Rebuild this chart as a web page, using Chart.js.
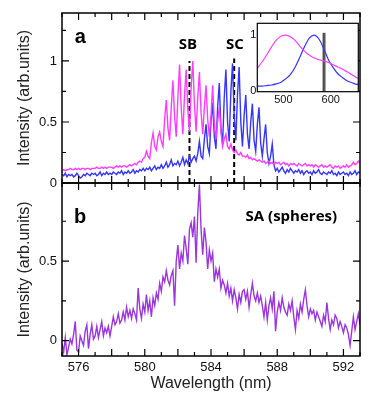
<!DOCTYPE html>
<html>
<head>
<meta charset="utf-8">
<script src="https://cdn.jsdelivr.net/npm/chart.js@4.4.0/dist/chart.umd.min.js"></script>
<style>
  html, body { margin: 0; padding: 0; background: #fff; }
  #wrap { position: relative; width: 374px; height: 401px; overflow: hidden; }
  canvas { position: absolute; }
</style>
</head>
<body>
<div id="wrap">
  <canvas id="bottomChart" width="374" height="221" style="left:0;top:180px"></canvas>
  <canvas id="topChart" width="374" height="195" style="left:0;top:0"></canvas>
  <canvas id="insetChart" width="144" height="95" style="left:230px;top:15px"></canvas>
</div>
<script>
// sampling grid of the spectra (nm)
const wlStart = 575, wlStep = 0.1;

// panel a: magenta and blue spectra, 575.0 .. 593.0 nm
const topMagenta = [
  0.10,0.11,0.10,0.11,0.11,0.12,0.11,0.11,0.12,0.11,
  0.12,0.11,0.12,0.12,0.11,0.12,0.12,0.11,0.12,0.12,
  0.12,0.13,0.12,0.12,0.13,0.12,0.13,0.12,0.13,0.13,
  0.13,0.12,0.13,0.14,0.13,0.14,0.13,0.14,0.14,0.13,
  0.14,0.15,0.14,0.15,0.16,0.15,0.17,0.18,0.17,0.20,
  0.21,0.26,0.22,0.20,0.33,0.41,0.30,0.27,0.38,0.42,
  0.34,0.30,0.52,0.68,0.45,0.35,0.62,0.84,0.55,0.38,
  0.70,0.97,0.62,0.40,0.72,0.93,0.60,0.42,0.78,1.00,
  0.65,0.42,0.70,0.91,0.58,0.40,0.62,0.80,0.52,0.38,
  0.55,0.80,0.50,0.36,0.50,0.62,0.42,0.30,0.36,0.40,
  0.30,0.28,0.32,0.27,0.25,0.27,0.24,0.23,0.25,0.22,
  0.22,0.21,0.23,0.20,0.21,0.19,0.20,0.19,0.18,0.19,
  0.18,0.17,0.18,0.16,0.17,0.18,0.16,0.17,0.15,0.17,
  0.16,0.17,0.15,0.16,0.17,0.15,0.16,0.14,0.16,0.15,
  0.16,0.15,0.14,0.16,0.15,0.14,0.15,0.16,0.14,0.15,
  0.14,0.15,0.13,0.15,0.14,0.13,0.14,0.15,0.13,0.14,
  0.13,0.14,0.15,0.13,0.12,0.14,0.13,0.14,0.12,0.13,
  0.14,0.13,0.15,0.13,0.14,0.15,0.17,0.15,0.16,0.18,
  0.16
];
const topBlue = [
  0.07,0.06,0.08,0.05,0.07,0.06,0.07,0.05,0.06,0.08,
  0.06,0.04,0.05,0.07,0.06,0.08,0.07,0.06,0.08,0.07,
  0.08,0.06,0.07,0.09,0.06,0.08,0.07,0.09,0.07,0.08,
  0.07,0.09,0.08,0.07,0.09,0.08,0.10,0.07,0.09,0.08,
  0.10,0.08,0.09,0.11,0.08,0.10,0.09,0.11,0.10,0.12,
  0.10,0.12,0.11,0.13,0.10,0.12,0.14,0.11,0.13,0.12,
  0.15,0.12,0.14,0.17,0.13,0.15,0.19,0.14,0.16,0.15,
  0.18,0.14,0.17,0.21,0.15,0.19,0.16,0.22,0.17,0.20,
  0.22,0.18,0.24,0.34,0.22,0.20,0.36,0.48,0.30,0.24,
  0.50,0.66,0.38,0.28,0.62,0.82,0.45,0.32,0.70,0.93,
  0.50,0.34,0.75,0.98,0.55,0.35,0.72,0.95,0.50,0.30,
  0.55,0.72,0.40,0.28,0.50,0.65,0.35,0.26,0.48,0.62,
  0.33,0.22,0.36,0.48,0.25,0.16,0.22,0.32,0.15,0.10,
  0.12,0.09,0.11,0.13,0.10,0.08,0.11,0.09,0.12,0.10,
  0.08,0.10,0.09,0.11,0.08,0.10,0.07,0.09,0.10,0.08,
  0.09,0.07,0.10,0.08,0.09,0.11,0.08,0.07,0.09,0.08,
  0.07,0.09,0.08,0.10,0.07,0.08,0.06,0.09,0.07,0.08,
  0.09,0.07,0.08,0.06,0.09,0.07,0.08,0.10,0.07,0.09,
  0.08
];

// panel b: SA (spheres), 575.0 .. 593.0 nm
const bottomPurple = [
  -0.02,-0.07,0.02,-0.09,-0.04,0.01,-0.02,0.04,0.12,-0.06,
  -0.07,0.03,0.00,-0.03,0.06,0.10,-0.05,0.04,0.10,0.01,
  0.03,0.09,0.02,0.07,0.12,0.03,0.08,0.05,0.09,0.03,
  0.09,0.15,0.10,0.12,0.17,0.11,0.13,0.18,0.13,0.21,
  0.15,0.19,0.14,0.20,0.17,0.13,0.33,0.20,0.14,0.23,
  0.18,0.29,0.19,0.25,0.15,0.27,0.22,0.30,0.26,0.36,
  0.31,0.40,0.37,0.44,0.38,0.35,0.41,0.44,0.22,0.50,
  0.60,0.45,0.55,0.50,0.66,0.58,0.48,0.70,0.74,0.65,
  0.78,0.49,0.80,0.98,0.70,0.54,0.71,0.62,0.45,0.57,
  0.50,0.55,0.37,0.45,0.40,0.45,0.33,0.38,0.35,0.30,
  0.36,0.28,0.33,0.25,0.32,0.27,0.20,0.29,0.24,0.31,
  0.32,0.26,0.31,0.21,0.29,0.36,0.28,0.25,0.30,0.24,
  0.28,0.22,0.15,0.24,0.13,0.22,0.27,0.20,0.31,0.06,
  0.18,0.24,0.19,0.27,0.21,0.18,0.16,0.23,0.19,0.25,
  0.15,0.07,0.19,0.14,0.23,0.18,0.26,0.32,0.22,0.15,
  0.20,0.17,0.19,0.13,0.18,0.15,0.12,0.09,0.16,0.12,
  0.24,0.14,0.07,0.13,0.10,0.16,0.14,0.08,0.12,0.09,
  0.05,0.10,0.08,0.04,-0.03,0.06,0.15,0.07,0.12,0.17,
  0.10
];

// inset: normalised spectra
const insetWl = [445,455,465,475,485,495,505,515,525,535,545,555,565,575,585,595,605,615,625,635,645,655,658];
const insetMagenta = [0.41,0.52,0.65,0.79,0.91,0.98,1.00,0.97,0.90,0.80,0.71,0.64,0.59,0.56,0.54,0.51,0.47,0.43,0.39,0.34,0.29,0.24,0.23];
const insetBlue = [0.09,0.09,0.10,0.11,0.13,0.16,0.22,0.30,0.43,0.61,0.80,0.95,1.00,0.93,0.76,0.56,0.42,0.31,0.24,0.18,0.15,0.12,0.12];
const insetMarkers = [584, 587.5];

// marker wavelengths in panel a
const sbWl = 582.7, scWl = 585.4;

// tick labels
const xTickLabels = [576, 580, 584, 588, 592];
const yTicksTop = [0, 0.5, 1];
const yTicksBottom = [0, 0.5];
const insetXTicks = [500, 600];
const insetYTicks = [0, 1];

function toPoints(values) {
  return values.map((v, i) => ({ x: +(wlStart + i * wlStep).toFixed(2), y: v }));
}

function zipPoints(xs, ys) {
  return xs.map((x, i) => ({ x: x, y: ys[i] }));
}

function range(a, b, step) {
  const out = [];
  for (let v = a; v <= b + 1e-9; v += step) out.push(+v.toFixed(3));
  return out;
}

// keep the fixed plot box: no extra room for half-height edge labels
function fixSize(size, isX) {
  return function (s) {
    if (isX) s.height = size; else s.width = size;
    s.paddingTop = 0; s.paddingBottom = 0; s.paddingLeft = 0; s.paddingRight = 0;
  };
}

// box, inward ticks and text labels placed through the scales
const framePlugin = {
  id: 'frame',
  beforeDatasetsDraw(chart, args, opts) {
    if (!opts.fill) return;
    const { ctx, chartArea: a } = chart;
    ctx.save();
    ctx.fillStyle = opts.fill;
    ctx.fillRect(a.left, a.top, a.right - a.left, a.bottom - a.top);
    ctx.restore();
  },
  afterDatasetsDraw(chart, args, opts) {
    const { ctx, chartArea: a, scales } = chart;
    ctx.save();
    ctx.strokeStyle = '#000';
    ctx.lineWidth = opts.lineWidth || 1.5;
    ctx.strokeRect(a.left, a.top, a.right - a.left, a.bottom - a.top);
    ctx.lineWidth = 1.2;
    ctx.beginPath();
    (opts.xTicks || []).forEach(t => {
      const px = scales.x.getPixelForValue(t.v);
      ctx.moveTo(px, a.bottom); ctx.lineTo(px, a.bottom - t.len);
      ctx.moveTo(px, a.top); ctx.lineTo(px, a.top + t.len);
    });
    (opts.yTicks || []).forEach(t => {
      const py = scales.y.getPixelForValue(t.v);
      ctx.moveTo(a.left, py); ctx.lineTo(a.left + t.len, py);
      ctx.moveTo(a.right, py); ctx.lineTo(a.right - t.len, py);
    });
    ctx.stroke();
    (opts.labels || []).forEach(l => {
      ctx.font = l.font;
      ctx.fillStyle = '#000';
      ctx.textAlign = 'center';
      ctx.textBaseline = 'middle';
      ctx.fillText(l.text, scales.x.getPixelForValue(l.x), scales.y.getPixelForValue(l.y));
    });
    ctx.restore();
  }
};

const tickFont = { family: '"Liberation Sans", Arial, sans-serif', size: 13 };
const titleFont = { family: '"Liberation Sans", Arial, sans-serif', size: 16 };
const labelBig = 'bold 20px "Liberation Sans", Arial, sans-serif';
const labelSmall = 'bold 15px "Open Sans", sans-serif';
const plainNumber = v => String(v);

const xMinor = range(575, 593, 1).map(v => ({ v: v, len: v % 2 === 0 ? 7 : 4 }));

const lineStyle = { pointRadius: 0, tension: 0, fill: false };

new Chart(document.getElementById('topChart'), {
  type: 'line',
  data: {
    datasets: [
      Object.assign({ data: toPoints(topMagenta), borderColor: '#ff3cff', borderWidth: 1.4 }, lineStyle),
      Object.assign({ data: toPoints(topBlue), borderColor: '#3535ff', borderWidth: 1.4 }, lineStyle),
      Object.assign({ data: [{ x: sbWl, y: 0 }, { x: sbWl, y: 1.0 }], borderColor: '#000', borderWidth: 2, borderDash: [5, 3] }, lineStyle),
      Object.assign({ data: [{ x: scWl, y: 0 }, { x: scWl, y: 1.02 }], borderColor: '#000', borderWidth: 2, borderDash: [5, 3] }, lineStyle)
    ]
  },
  options: {
    responsive: false,
    animation: false,
    layout: { padding: { top: 13, right: 14, left: 0, bottom: 0 } },
    plugins: {
      legend: { display: false },
      tooltip: { enabled: false },
      frame: {
        xTicks: xMinor,
        yTicks: range(0, 1.25, 0.25).map(v => ({ v: v, len: v % 0.5 === 0 ? 7 : 4 })),
        labels: [
          { text: 'a', x: 576.1, y: 1.19, font: labelBig },
          { text: 'SB', x: 582.6, y: 1.13, font: labelSmall },
          { text: 'SC', x: 585.45, y: 1.13, font: labelSmall }
        ]
      }
    },
    scales: {
      x: {
        type: 'linear', min: 575, max: 593,
        ticks: { display: false },
        grid: { display: false, drawTicks: false },
        border: { display: false },
        afterFit: fixSize(12, true)
      },
      y: {
        min: 0, max: 1.393,
        afterBuildTicks(s) { s.ticks = yTicksTop.map(v => ({ value: v })); },
        ticks: { font: tickFont, color: '#111', padding: 5, callback: plainNumber },
        grid: { display: false, drawTicks: false },
        border: { display: false },
        title: { display: true, text: 'Intensity (arb.units)', font: titleFont, color: '#222', padding: { top: 15, bottom: 0 } },
        afterFit: fixSize(62, false)
      }
    }
  },
  plugins: [framePlugin]
});

new Chart(document.getElementById('bottomChart'), {
  type: 'line',
  data: {
    datasets: [
      Object.assign({ data: toPoints(bottomPurple), borderColor: '#9b36dc', borderWidth: 1.4 }, lineStyle)
    ]
  },
  options: {
    responsive: false,
    animation: false,
    layout: { padding: { top: 3, right: 14, left: 0, bottom: 0 } },
    plugins: {
      legend: { display: false },
      tooltip: { enabled: false },
      frame: {
        xTicks: xMinor,
        yTicks: range(0, 0.75, 0.25).map(v => ({ v: v, len: v % 0.5 === 0 ? 7 : 4 })),
        labels: [
          { text: 'b', x: 576.1, y: 0.775, font: labelBig },
          { text: 'SA (spheres)', x: 588.85, y: 0.78, font: labelSmall }
        ]
      }
    },
    scales: {
      x: {
        type: 'linear', min: 575, max: 593,
        afterBuildTicks(s) { s.ticks = xTickLabels.map(v => ({ value: v })); },
        ticks: { font: tickFont, color: '#111', padding: 4, maxRotation: 0, autoSkip: false },
        grid: { display: false, drawTicks: false },
        border: { display: false },
        title: { display: true, text: 'Wavelength (nm)', font: titleFont, color: '#222', padding: { top: 0, bottom: 8 } },
        afterFit: fixSize(45, true)
      },
      y: {
        min: -0.096, max: 0.99,
        afterBuildTicks(s) { s.ticks = yTicksBottom.map(v => ({ value: v })); },
        ticks: { font: tickFont, color: '#111', padding: 5, callback: plainNumber },
        grid: { display: false, drawTicks: false },
        border: { display: false },
        title: { display: true, text: 'Intensity (arb.units)', font: titleFont, color: '#222', padding: { top: 15, bottom: 0 } },
        afterFit: fixSize(62, false)
      }
    }
  },
  plugins: [framePlugin]
});

const insetTickFont = { family: '"Liberation Sans", Arial, sans-serif', size: 11 };

new Chart(document.getElementById('insetChart'), {
  type: 'line',
  data: {
    datasets: [
      Object.assign({ data: zipPoints(insetWl, insetMagenta), borderColor: '#ff3cff', borderWidth: 1.2, cubicInterpolationMode: 'monotone' }, lineStyle),
      Object.assign({ data: zipPoints(insetWl, insetBlue), borderColor: '#3535ff', borderWidth: 1.2, cubicInterpolationMode: 'monotone' }, lineStyle)
    ].concat(insetMarkers.map(w => Object.assign({
      data: [{ x: w, y: 0 }, { x: w, y: 1.04 }], borderColor: '#000', borderWidth: 1
    }, lineStyle)))
  },
  options: {
    responsive: false,
    animation: false,
    layout: { padding: { top: 8.3, right: 15.7, left: 0, bottom: 0 } },
    plugins: {
      legend: { display: false },
      tooltip: { enabled: false },
      frame: { fill: '#fff', lineWidth: 1.2 }
    },
    scales: {
      x: {
        type: 'linear', min: 445, max: 658,
        afterBuildTicks(s) { s.ticks = insetXTicks.map(v => ({ value: v })); },
        ticks: { font: insetTickFont, color: '#111', padding: 2, maxRotation: 0, autoSkip: false },
        grid: { display: false, drawTicks: false },
        border: { display: false },
        afterFit: fixSize(18.3, true)
      },
      y: {
        min: -0.01, max: 1.21,
        afterBuildTicks(s) { s.ticks = insetYTicks.map(v => ({ value: v })); },
        ticks: { font: insetTickFont, color: '#111', padding: 1, callback: plainNumber },
        grid: { display: false, drawTicks: false },
        border: { display: false },
        afterFit: fixSize(27.3, false)
      }
    }
  },
  plugins: [framePlugin]
});
</script>
</body>
</html>
